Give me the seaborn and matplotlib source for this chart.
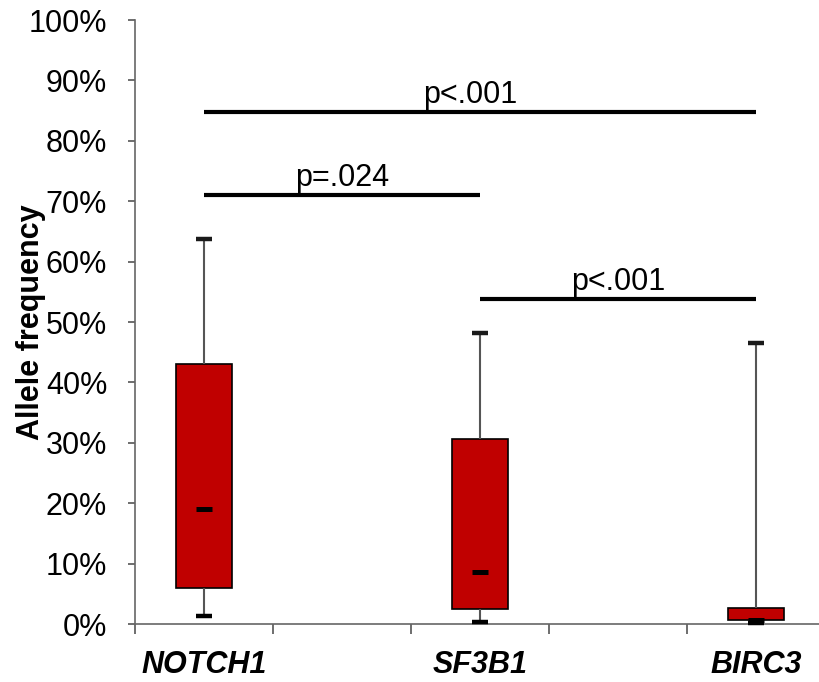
import numpy as np
import pandas as pd
import matplotlib
matplotlib.use("Agg")
import matplotlib.pyplot as plt
from matplotlib.ticker import PercentFormatter, FixedLocator
import seaborn as sns

# Five-number summaries of allele frequency (%) per gene
genes = ["NOTCH1", "SF3B1", "BIRC3"]
whisker_low = [1.3, 0.4, 0.2]
q1 = [6.0, 2.5, 0.8]
median = [19.0, 8.6, 0.6]
q3 = [43.0, 30.6, 2.6]
whisker_high = [63.7, 48.1, 46.5]

# Pairwise comparisons: (gene a, gene b, bar height %, label)
comparisons = [
    ("NOTCH1", "BIRC3", 84.8, "p<.001"),
    ("NOTCH1", "SF3B1", 71.0, "p=.024"),
    ("SF3B1", "BIRC3", 53.8, "p<.001"),
]

y_ticks = list(range(0, 101, 10))

# Long-form table: each gene contributes its five summary values,
# whose quartiles reproduce the box exactly
rows = []
for g, lo, a, m, b, hi in zip(genes, whisker_low, q1, median, q3, whisker_high):
    for v in (lo, a, m, b, hi):
        rows.append({"gene": g, "af": v})
df = pd.DataFrame(rows)

# Spacer slots between genes
slots = ["NOTCH1", " ", "SF3B1", "  ", "BIRC3"]
xpos = {g: slots.index(g) for g in genes}

sns.set_style("white")
plt.rcParams["font.family"] = ["Liberation Sans", "DejaVu Sans"]
plt.rcParams["text.color"] = "black"
plt.rcParams["xtick.color"] = "black"
plt.rcParams["ytick.color"] = "black"
plt.rcParams["axes.labelcolor"] = "black"

fig = plt.figure(figsize=(8.19, 6.82), dpi=100)
ax = fig.add_axes([135 / 819, 58 / 682, 684 / 819, 604 / 682])

sns.boxplot(
    data=df, x="gene", y="af", order=slots, whis=(0, 100), width=0.4,
    color="#C00000", saturation=1, linecolor="black", linewidth=1.2,
    showcaps=False, showfliers=False,
    medianprops={"visible": False},
    whiskerprops={"color": "#555555", "linewidth": 1.5},
    ax=ax,
)

# Caps and medians as short dashes
xs = [xpos[g] for g in genes]
ax.plot(xs, whisker_high, ls="none", marker="_", ms=11.5, mew=3.2,
        color="#1a1a1a", clip_on=False, zorder=4)
ax.plot(xs, whisker_low, ls="none", marker="_", ms=11.5, mew=3.2,
        color="black", clip_on=False, zorder=4)
ax.plot(xs, median, ls="none", marker="_", ms=11, mew=3.6,
        color="black", clip_on=False, zorder=5)

# Significance bars
for a, b, h, lab in comparisons:
    x0, x1 = xpos[a], xpos[b]
    ax.plot([x0, x1], [h, h], color="black", lw=3, solid_capstyle="butt", zorder=3)
    ax.text((x0 + x1) / 2 - (0.07 if x1 - x0 > 2 else 0), h + 1.5, lab,
            ha="center", va="baseline", fontsize=22, color="black")

ax.set_ylim(0, 100)
ax.set_xlim(-0.5, 4.457)
ax.yaxis.set_major_locator(FixedLocator(y_ticks))
ax.yaxis.set_major_formatter(PercentFormatter(decimals=0))

ax.set_xticks([-0.5, 0.5, 1.5, 2.5, 3.5])
ax.set_xticklabels([])
ax.set_xticks(xs, minor=True)
ax.set_xticklabels(genes, minor=True, fontsize=22, fontweight="bold",
                   fontstyle="italic")
ax.tick_params(axis="x", which="major", bottom=True, direction="out",
               length=7.5, width=1.2, color="#555555")
ax.tick_params(axis="x", which="minor", bottom=True, length=0, pad=19,
               labelcolor="black")
ax.tick_params(axis="y", left=True, direction="out", length=5, width=1.2,
               color="#555555", pad=15, labelsize=22, labelcolor="black")

ax.set_xlabel("")
ax.set_ylabel("Allele frequency", fontsize=22, fontweight="bold", color="black")
ax.yaxis.set_label_coords(-0.13, 0.5)

for side in ("top", "right"):
    ax.spines[side].set_visible(False)
for side in ("left", "bottom"):
    ax.spines[side].set_color("#666666")
    ax.spines[side].set_linewidth(1.2)

fig.savefig("out.png", dpi=100)
